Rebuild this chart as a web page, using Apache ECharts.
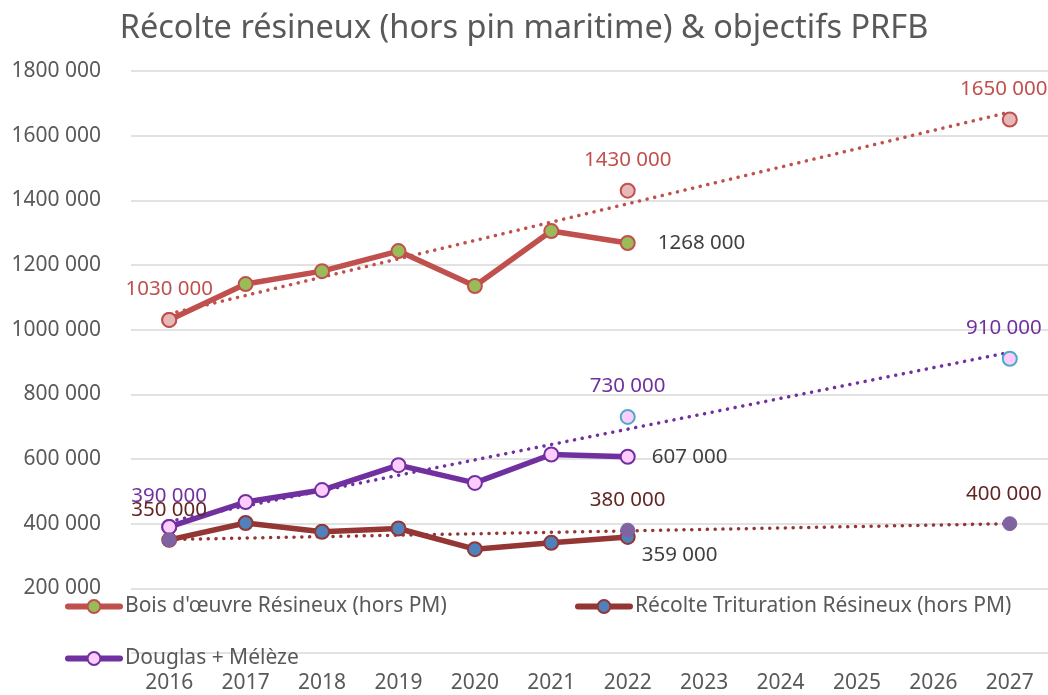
<!DOCTYPE html>
<html>
<head>
<meta charset="utf-8">
<title>Récolte résineux</title>
<script src="https://cdn.jsdelivr.net/npm/echarts@6/dist/echarts.min.js"></script>
<style>
  html, body { margin: 0; padding: 0; background: #fff; }
  #chart { width: 1048px; height: 695px; }
</style>
</head>
<body>
<div id="chart"></div>
<script>
// données
var years = ['2016', '2017', '2018', '2019', '2020', '2021', '2022', '2023', '2024', '2025', '2026', '2027'];
var boisOeuvre = [1030000, 1141000, 1181000, 1243000, 1135000, 1305000, 1268000, null, null, null, null, null];
var trituration = [350000, 402000, 375000, 385000, 321000, 341000, 359000, null, null, null, null, null];
var douglas = [390000, 467000, 504000, 581000, 526000, 614000, 607000, null, null, null, null, null];

// objectifs PRFB
var objBois = [1030000, null, null, null, null, null, 1430000, null, null, null, null, 1650000];
var objTrituration = [350000, null, null, null, null, null, 380000, null, null, null, null, 400000];
var objDouglas = [390000, null, null, null, null, null, 730000, null, null, null, null, 910000];

// courbes de tendance (extrémités lues)
var tendBois = [1049000, null, null, null, null, null, null, null, null, null, null, 1673000];
var tendTrituration = [351000, null, null, null, null, null, null, null, null, null, null, 400000];
var tendDouglas = [407000, null, null, null, null, null, null, null, null, null, null, 930000];

var yTicks = { min: 0, max: 1800000, interval: 200000 };

var FONT = 'Noto Sans';

function fmt(v) {
  if (v === 0) return '';
  var k = Math.floor(v / 1000);
  var r = String(v % 1000);
  while (r.length < 3) r = '0' + r;
  return k + ' ' + r;
}

function lastLabel(arr, idx, opts) {
  return arr.map(function (v, i) {
    if (i !== idx || v == null) return v;
    return { value: v, label: Object.assign({
      show: true, fontFamily: FONT, fontSize: 20.5, color: '#404040',
      formatter: function (p) { return fmt(p.value); }
    }, opts) };
  });
}

// objectifs : le dernier point (2027) a son étiquette un peu décalée à gauche
function targets(arr, extra) {
  return arr.map(function (v, i) {
    if (v == null) return v;
    var item = { value: v };
    if (i === arr.length - 1) item.label = { offset: [-6, 0] };
    if (extra && extra[i]) Object.assign(item, extra[i]);
    return item;
  });
}

var dotted = [0.1, 7.7];

function legendBox(name, left, top) {
  return {
    data: [name],
    left: left, top: top, itemWidth: 52, itemHeight: 16,
    lineStyle: { width: 6, cap: 'round' },
    textStyle: { fontFamily: FONT, fontSize: 21, color: '#595959' }
  };
}

var chartDom = document.getElementById('chart');
var myChart = echarts.init(chartDom);
var option = {
  animation: false,
  title: {
    text: 'Récolte résineux (hors pin maritime) & objectifs PRFB',
    left: 'center',
    top: 7,
    textStyle: { fontFamily: FONT, fontSize: 32.5, fontWeight: 'normal', color: '#595959' }
  },
  legend: [
    legendBox('Bois d\'œuvre Résineux (hors PM)', 60, 591),
    legendBox('Récolte Trituration Résineux (hors PM)', 570, 591),
    legendBox('Douglas + Mélèze', 60, 643)
  ],
  grid: { left: 131, right: -4, top: 71, bottom: 42 },
  xAxis: {
    type: 'category',
    data: years,
    boundaryGap: true,
    axisLine: { show: false },
    axisTick: { show: false },
    axisLabel: { margin: 20, fontFamily: FONT, fontSize: 21, color: '#595959' }
  },
  yAxis: {
    type: 'value',
    min: yTicks.min,
    max: yTicks.max,
    interval: yTicks.interval,
    axisLine: { show: false },
    axisTick: { show: false },
    splitLine: { lineStyle: { color: '#D9D9D9', width: 1.5 } },
    axisLabel: { margin: 30, fontFamily: FONT, fontSize: 21, color: '#595959', formatter: fmt }
  },
  series: [
    {
      name: 'tendance bois', type: 'line', data: tendBois, connectNulls: true,
      symbol: 'none', z: 1,
      lineStyle: { color: '#C0504D', width: 3.5, type: dotted, cap: 'round' }
    },
    {
      name: 'tendance trituration', type: 'line', data: tendTrituration, connectNulls: true,
      symbol: 'none', z: 1,
      lineStyle: { color: '#943634', width: 3.5, type: dotted, cap: 'round' }
    },
    {
      name: 'tendance douglas', type: 'line', data: tendDouglas, connectNulls: true,
      symbol: 'none', z: 1,
      lineStyle: { color: '#7030A0', width: 3.5, type: dotted, cap: 'round' }
    },
    {
      name: 'Bois d\'œuvre Résineux (hors PM)', type: 'line',
      data: lastLabel(boisOeuvre, 6, { position: 'right', distance: 22 }),
      symbol: 'circle', symbolSize: 14, z: 3,
      lineStyle: { color: '#C0504D', width: 5.5, cap: 'round' },
      itemStyle: { color: '#9BBB59', borderColor: '#C0504D', borderWidth: 2 }
    },
    {
      name: 'Récolte Trituration Résineux (hors PM)', type: 'line',
      data: lastLabel(trituration, 6, { position: 'right', distance: 6, offset: [0, 18] }),
      symbol: 'circle', symbolSize: 14, z: 3,
      lineStyle: { color: '#943634', width: 5.5, cap: 'round' },
      itemStyle: { color: '#4F81BD', borderColor: '#943634', borderWidth: 2 }
    },
    {
      name: 'Douglas + Mélèze', type: 'line',
      data: lastLabel(douglas, 6, { position: 'right', distance: 16 }),
      symbol: 'circle', symbolSize: 14, z: 4,
      lineStyle: { color: '#7030A0', width: 5.5, cap: 'round' },
      itemStyle: { color: '#FFCCFF', borderColor: '#7030A0', borderWidth: 2 }
    },
    {
      name: 'objectif bois', type: 'scatter', data: targets(objBois),
      symbolSize: 14, z: 5,
      itemStyle: { color: '#E6B9B8', borderColor: '#C0504D', borderWidth: 2, opacity: 1 },
      label: {
        show: true, position: 'top', distance: 12,
        fontFamily: FONT, fontSize: 20.5, color: '#C0504D',
        formatter: function (p) { return fmt(p.value); }
      }
    },
    {
      name: 'objectif douglas', type: 'scatter',
      data: targets(objDouglas, { 0: { itemStyle: { borderColor: '#7030A0' } } }),
      symbolSize: 14, z: 5,
      itemStyle: { color: '#FFCCFF', borderColor: '#4BACC6', borderWidth: 2, opacity: 1 },
      label: {
        show: true, position: 'top', distance: 12,
        fontFamily: FONT, fontSize: 20.5, color: '#7030A0',
        formatter: function (p) { return fmt(p.value); }
      }
    },
    {
      name: 'objectif trituration', type: 'scatter', data: targets(objTrituration),
      symbolSize: 14, z: 5,
      itemStyle: { color: '#8064A2', borderColor: '#8064A2', borderWidth: 1, opacity: 1 },
      label: {
        show: true, position: 'top', distance: 12,
        fontFamily: FONT, fontSize: 20.5, color: '#632523',
        formatter: function (p) { return fmt(p.value); }
      }
    }
  ]
};
option && myChart.setOption(option);
</script>
</body>
</html>
